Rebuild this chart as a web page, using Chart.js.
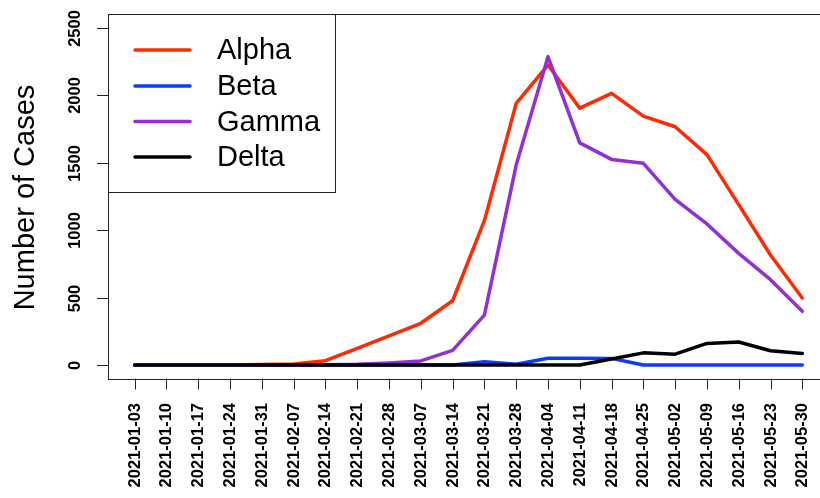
<!DOCTYPE html>
<html>
<head>
<meta charset="utf-8">
<script src="https://cdn.jsdelivr.net/npm/chart.js@4/dist/chart.umd.min.js"></script>
<style>
  html, body { margin: 0; padding: 0; background: #fff; overflow: hidden; }
  #wrap { width: 820px; height: 498px; overflow: hidden; }
  canvas { display: block; }
</style>
</head>
<body>
<div id="wrap"><canvas id="c" width="840" height="498"></canvas></div>
<script>
const dates = ["2021-01-03","2021-01-10","2021-01-17","2021-01-24","2021-01-31",
  "2021-02-07","2021-02-14","2021-02-21","2021-02-28","2021-03-07","2021-03-14",
  "2021-03-21","2021-03-28","2021-04-04","2021-04-11","2021-04-18","2021-04-25",
  "2021-05-02","2021-05-09","2021-05-16","2021-05-23","2021-05-30"];
const alphaCases = [0,0,0,0,3,8,32,124,216,309,476,1069,1938,2222,1903,2012,1844,1765,1558,1188,815,496];
const betaCases  = [0,0,0,0,0,0,0,0,0,0,0,25,5,50,50,49,0,0,0,0,0,0];
const gammaCases = [0,0,0,0,0,0,2,5,15,30,108,370,1481,2284,1645,1523,1494,1227,1045,827,632,398];
const deltaCases = [0,0,0,0,0,0,0,0,0,0,0,0,0,0,0,44,90,80,160,170,106,86];
const seriesNames = ["Alpha","Beta","Gamma","Delta"];
const seriesColors = ["#FF2A00","#0A3CFF","#9030D6","#000000"];
const yTicks = [0,500,1000,1500,2000,2500];
const yTitle = "Number of Cases";

const allSeries = [alphaCases, betaCases, gammaCases, deltaCases];
const toPts = arr => arr.map((v, i) => ({ x: i, y: v }));

const FONT = '"Liberation Sans", Arial, Helvetica, sans-serif';

const rAxes = {
  id: 'rAxes',
  afterDraw(chart) {
    const ctx = chart.ctx;
    const xs = chart.scales.x, ys = chart.scales.y;
    const a = chart.chartArea;
    ctx.save();
    ctx.strokeStyle = '#222';
    ctx.lineWidth = 1;
    // plot box
    ctx.strokeRect(Math.round(a.left) + 0.5, Math.round(a.top) + 0.5,
                   Math.round(a.right - a.left), Math.round(a.bottom - a.top));
    // y axis ticks & labels
    ctx.fillStyle = '#000';
    ctx.font = 'bold 16.5px ' + FONT;
    yTicks.forEach(v => {
      const y = Math.round(ys.getPixelForValue(v)) + 0.5;
      ctx.beginPath();
      ctx.moveTo(a.left - 11, y); ctx.lineTo(a.left, y); ctx.stroke();
      ctx.save();
      ctx.translate(75, y);
      ctx.rotate(-Math.PI / 2);
      ctx.textAlign = 'center';
      ctx.textBaseline = 'middle';
      ctx.fillText(String(v), 0, 0);
      ctx.restore();
    });
    // x axis ticks & labels
    dates.forEach((d, i) => {
      const x = Math.round(xs.getPixelForValue(i)) + 0.5;
      ctx.beginPath();
      ctx.moveTo(x, a.bottom); ctx.lineTo(x, a.bottom + 11); ctx.stroke();
      ctx.save();
      ctx.translate(x, 403);
      ctx.rotate(-Math.PI / 2);
      ctx.textAlign = 'right';
      ctx.textBaseline = 'middle';
      ctx.fillText(d, 0, 0);
      ctx.restore();
    });
    // y title
    ctx.save();
    ctx.font = '29px ' + FONT;
    ctx.translate(33.5, 197.5);
    ctx.rotate(-Math.PI / 2);
    ctx.textAlign = 'center';
    ctx.textBaseline = 'alphabetic';
    ctx.fillText(yTitle, 0, 0);
    ctx.restore();
    // legend
    const lx0 = a.left, ly0 = a.top, lx1 = 335.5, ly1 = 192.5;
    ctx.fillStyle = '#fff';
    ctx.fillRect(lx0 + 0.5, ly0 + 0.5, lx1 - lx0, ly1 - ly0);
    ctx.strokeRect(Math.round(lx0) + 0.5, Math.round(ly0) + 0.5, lx1 - Math.round(lx0) - 0.5, ly1 - Math.round(ly0) - 0.5);
    const rows = [50, 86, 121.5, 157];
    ctx.font = '29px ' + FONT;
    ctx.textAlign = 'left';
    ctx.textBaseline = 'middle';
    seriesNames.forEach((n, k) => {
      ctx.strokeStyle = seriesColors[k];
      ctx.lineWidth = 3.5;
      ctx.lineCap = 'round';
      ctx.beginPath();
      ctx.moveTo(135, rows[k]); ctx.lineTo(190, rows[k]); ctx.stroke();
      ctx.fillStyle = '#000';
      ctx.fillText(n, 217, rows[k] + 1);
    });
    ctx.restore();
  }
};

new Chart(document.getElementById('c'), {
  type: 'line',
  data: {
    datasets: seriesNames.map((n, k) => ({
      label: n,
      data: toPts(allSeries[k]),
      borderColor: seriesColors[k],
      backgroundColor: seriesColors[k],
      borderWidth: 3.5,
      pointRadius: 0,
      tension: 0,
      fill: false,
      borderJoinStyle: 'round',
      borderCapStyle: 'round',
      order: 3 - k
    }))
  },
  options: {
    responsive: false,
    animation: false,
    devicePixelRatio: 1,
    layout: { padding: { left: 108, right: 11, top: 14, bottom: 119.5 } },
    plugins: { legend: { display: false }, tooltip: { enabled: false } },
    scales: {
      x: { type: 'linear', min: -0.84, max: 21.84, display: false },
      y: { type: 'linear', min: -100, max: 2600, display: false }
    }
  },
  plugins: [rAxes]
});
</script>
</body>
</html>
